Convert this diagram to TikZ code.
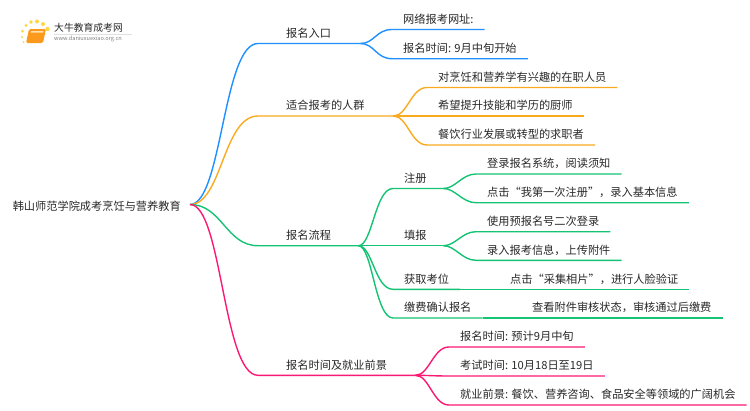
\documentclass[tikz,border=0pt]{standalone}
\usepackage{fontspec}
\setmainfont{Noto Sans CJK SC}
\usepackage{xcolor}
\usetikzlibrary{positioning,calc}
\definecolor{rootblue}{RGB}{30,144,255}
\definecolor{rootorange}{RGB}{250,170,30}
\definecolor{rootgreen}{RGB}{20,195,115}
\definecolor{rootpink}{RGB}{250,25,115}
\definecolor{labgray}{RGB}{40,40,40}
\tikzset{
  % 文字节点
  lab/.style={anchor=south west, inner xsep=11pt, inner ysep=3.9pt, text height=10pt, text depth=2pt,
    font=\fontsize{11.2}{13}\selectfont, text=labgray},
  % 一级分支
  first/.style={lab, inner xsep=0pt, text width=#1, execute at begin node={\hspace*{28pt}}},
  % 连线
  wire/.style={line width=1.4pt},
  bwire/.style={wire, rootblue},
  owire/.style={wire, rootorange},
  gwire/.style={wire, rootgreen},
  pwire/.style={wire, rootpink},
}
\begin{document}
\begin{tikzpicture}[x=1pt,y=-1pt]
  \useasboundingbox (0,0) rectangle (750,410);

  % Logo
  \fill[rootorange!90!red, rounded corners=1.5pt] (29,29) -- (46,29) -- (43,43) -- (26,43) -- cycle;
  \fill[rootorange!35] (31,31) -- (43.5,31) -- (43.2,32.5) -- (30.6,32.5) -- cycle;
  \foreach \x/\y/\r in {22/37/1.2, 22.5/31/1.5, 26/25.5/1.7, 31/22/1.9, 37/21.5/2, 43/24/2, 47.5/29/2.2, 23.5/42/1}
    \fill[rootorange!60!yellow!80!white] (\x,\y) circle (\r pt);
  \fill[gray!25] (54,33.5) rectangle (132,34);
  \node[anchor=west, inner sep=0pt, font=\fontsize{9.8}{11}\selectfont, text=labgray] (logotitle) at (54,28) {大牛教育成考网};
  \node[anchor=west, inner sep=0pt, font=\fontsize{5.6}{7}\selectfont, text=gray] (logourl) at (54,38.5) {www.daniuxuexiao.org.cn};

  % Root
  \node[anchor=east, inner xsep=9pt, inner ysep=0pt, font=\fontsize{11.2}{13}\selectfont, text=labgray] (root) at (190,206) {韩山师范学院成考烹饪与营养教育};
  \coordinate (hub) at (190,204.5);

  % First level
  \node[first=102pt] (entry) at (258,43.5) {报名入口};
  \node[first=135pt] (crowd) at (258,116) {适合报考的人群};
  \node[first=100pt] (flow) at (258,245.7) {报名流程};
  \node[first=157pt] (time) at (258,375.3) {报名时间及就业前景};

  \draw[bwire] (hub) .. controls +(32,0) and +(-35,0) .. (entry.south west) -- (entry.south east);
  \draw[owire] (hub) .. controls +(32,0) and +(-35,0) .. (crowd.south west) -- (crowd.south east);
  \draw[gwire] (hub) .. controls +(32,0) and +(-32,0) .. (flow.south west) -- (flow.south east);
  \draw[pwire] (hub) .. controls +(32,0) and +(-35,0) .. (time.south west) -- (time.south east);

  % Entry children
  \node[lab] (site) at (392,29.5) {网络报考网址:};
  \node[lab] (date) at (392,58.7) {报名时间: 9月中旬开始};
  \foreach \n in {site,date}
    \draw[bwire] (entry.south east) .. controls +(14,0) and +(-16,0) .. (\n.south west) -- (\n.south east);

  % Crowd children
  \node[lab] (staff) at (427,87.5) {对烹饪和营养学有兴趣的在职人员};
  \node[lab] (chef) at (427,116) {希望提升技能和学历的厨师};
  \node[lab] (seeker) at (427,145) {餐饮行业发展或转型的求职者};
  \foreach \n in {staff,chef,seeker}
    \draw[owire] (crowd.south east) .. controls +(14,0) and +(-16,0) .. (\n.south west) -- (\n.south east);

  % Flow children
  \node[lab, text width=28pt] (signup) at (393,188.5) {注册};
  \node[lab, text width=28pt] (fill) at (393,245.7) {填报};
  \node[lab] (seat) at (393,289.3) {获取考位};
  \node[lab] (pay) at (393,318) {缴费确认报名};
  \node[lab] (seatnote) at (499,289.3) {点击“采集相片”，进行人脸验证};
  \node[lab] (paynote) at (521,318) {查看附件审核状态，审核通过后缴费};
  \foreach \n in {signup,fill,seat,pay}
    \draw[gwire] (flow.south east) .. controls +(14,0) and +(-18,0) .. (\n.south west) -- (\n.south east);
  \draw[gwire] (seat.south east) -- (seatnote.south west) -- (seatnote.south east);
  \draw[gwire] (pay.south east) -- (paynote.south west) -- (paynote.south east);

  % Signup and fill children
  \node[lab] (login) at (476,174) {登录报名系统，阅读须知};
  \node[lab] (first) at (476,202.7) {点击“我第一次注册”，录入基本信息};
  \node[lab] (again) at (476,231.7) {使用预报名号二次登录};
  \node[lab] (upload) at (476,260.3) {录入报考信息，上传附件};
  \foreach \n in {login,first}
    \draw[gwire] (signup.south east) .. controls +(12,0) and +(-14,0) .. (\n.south west) -- (\n.south east);
  \foreach \n in {again,upload}
    \draw[gwire] (fill.south east) .. controls +(12,0) and +(-14,0) .. (\n.south west) -- (\n.south east);

  % Time children
  \node[lab] (when) at (449,347) {报名时间: 预计9月中旬};
  \node[lab] (exam) at (449,376) {考试时间: 10月18日至19日};
  \node[lab] (job) at (449,405) {就业前景: 餐饮、营养咨询、食品安全等领域的广阔机会};
  \foreach \n in {when,exam,job}
    \draw[pwire] (time.south east) .. controls +(14,0) and +(-16,0) .. (\n.south west) -- (\n.south east);
\end{tikzpicture}
\end{document}
